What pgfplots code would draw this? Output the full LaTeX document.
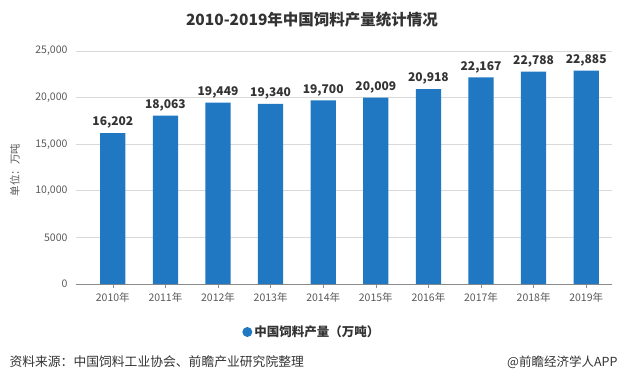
\documentclass[border=0pt]{standalone}
\usepackage{pgfplots}
\pgfplotsset{compat=1.18}
\usepackage{fontspec}
\setmainfont{Noto Sans CJK SC}
\definecolor{barblue}{HTML}{1F78C1}
\definecolor{tickgray}{HTML}{595959}
\definecolor{gridgray}{HTML}{D9D9D9}
\definecolor{labgray}{HTML}{333333}
\begin{document}
\begin{tikzpicture}[x=1pt,y=1pt]
\path[use as bounding box] (0,0) rectangle (625,384);
\begin{axis}[
  at={(76pt,100pt)}, anchor=south west,
  scale only axis, width=536pt, height=233pt,
  xmin=-0.70, xmax=9.49, ymin=0, ymax=25000,
  ybar, bar width=0.48,
  xtick={0,...,9},
  xticklabels={2010年,2011年,2012年,2013年,2014年,2015年,2016年,2017年,2018年,2019年},
  ytick={0,5000,10000,15000,20000,25000},
  yticklabels={0,5000,{10,000},{15,000},{20,000},{25,000}},
  scaled y ticks=false,
  ymajorgrids, grid style={gridgray, line width=0.7pt},
  axis x line*=bottom, axis y line*=left,
  y axis line style={draw=none},
  x axis line style={tickgray!70, line width=0.7pt},
  x tick style={tickgray!70, line width=0.6pt},
  major tick length=4pt, tick align=outside,
  ytick style={draw=none},
  /pgf/number format/assume math mode=true,
  ticklabel style={font=\fontsize{10.5}{12}\selectfont, text=tickgray},
  yticklabel style={xshift=-1pt},
  xticklabel style={yshift=-1pt},
  nodes near coords,
  point meta=explicit symbolic,
  every node near coord/.append style={font=\fontsize{12}{14}\selectfont\bfseries, text=labgray, yshift=1pt},
  legend style={at={(0.44,-0.206)}, anchor=center, draw=none, fill=none,
    font=\fontsize{12.5}{14}\selectfont\bfseries, text=labgray},
  legend image code/.code={\fill[barblue] (0.2em,0) circle (5pt);},
  ylabel={单位：万吨},
  ylabel style={font=\fontsize{10.5}{12}\selectfont, text=tickgray, at={(axis description cs:-0.114,0.49)}, anchor=center},
  clip=false,
]
\addplot[fill=barblue, draw=none] coordinates {
(0,16202) [16,202]
(1,18063) [18,063]
(2,19449) [19,449]
(3,19340) [19,340]
(4,19700) [19,700]
(5,20009) [20,009]
(6,20918) [20,918]
(7,22167) [22,167]
(8,22788) [22,788]
(9,22885) [22,885]
};
\addlegendentry{中国饲料产量（万吨）}
\end{axis}
\node[font=\fontsize{15.5}{17}\selectfont\bfseries, text=labgray] at (312,364) {2010-2019年中国饲料产量统计情况};
\node[anchor=west, font=\fontsize{12.8}{14}\selectfont, text=labgray] at (6,22) {资料来源：中国饲料工业协会、前瞻产业研究院整理};
\node[anchor=east, font=\fontsize{12.5}{14}\selectfont, text=labgray] at (621,22) {@前瞻经济学人APP};
\end{tikzpicture}
\end{document}
